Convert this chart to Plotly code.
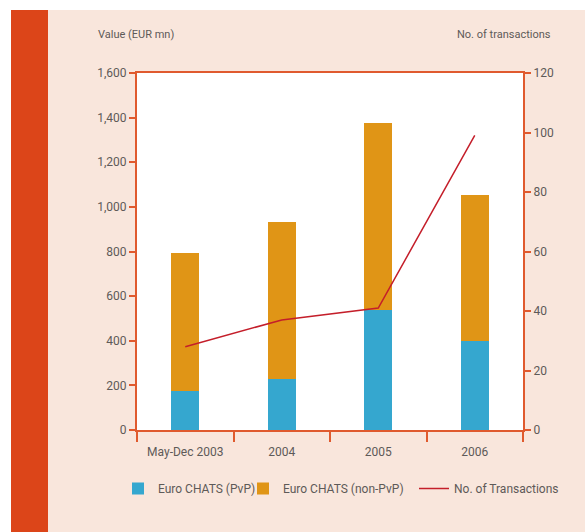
import plotly.graph_objects as go

# Euro CHATS settlement values (EUR mn) and transaction counts
periods = ["May-Dec 2003", "2004", "2005", "2006"]
pvp_values = [175, 230, 540, 400]
non_pvp_values = [620, 700, 835, 655]
transactions = [28, 37, 41, 99]

left_ticks = [0, 200, 400, 600, 800, 1000, 1200, 1400, 1600]
right_ticks = [0, 20, 40, 60, 80, 100, 120]

AXIS = "#e05a2e"
TEXT = "#5e5a58"
PEACH = "#f9e6dc"
FONT = "Roboto"

# plot area in pixels
W, H = 585, 532
L, R, T, B = 137, 523, 73, 430


def px(x):
    return (x - L) / (R - L)


def py(y):
    return (B - y) / (B - T)


def legend_at(x):
    return dict(
        orientation="h", x=px(x), y=py(474), xanchor="left", yanchor="top",
        bgcolor="rgba(0,0,0,0)", font=dict(size=12, color=TEXT), itemwidth=30,
    )


fig = go.Figure()
fig.add_trace(go.Bar(
    x=periods, y=pvp_values, name="Euro CHATS (PvP)", legend="legend",
    marker=dict(color="#35a7cf", line=dict(width=0)),
))
fig.add_trace(go.Bar(
    x=periods, y=non_pvp_values, name="Euro CHATS (non-PvP)", legend="legend2",
    marker=dict(color="#e09516", line=dict(width=0)),
))
fig.add_trace(go.Scatter(
    x=periods, y=transactions, name="No. of Transactions", yaxis="y2",
    legend="legend3", mode="lines", line=dict(color="#c41e2a", width=1.5),
))

fig.update_layout(
    width=W, height=H,
    margin=dict(l=L, r=W - R, t=T, b=H - B),
    paper_bgcolor=PEACH,
    plot_bgcolor="white",
    barmode="stack",
    bargap=0.71,
    font=dict(family=FONT, size=12, color=TEXT),
    showlegend=True,
    legend=legend_at(118),
    legend2=legend_at(243),
    legend3=legend_at(414),
    xaxis=dict(
        type="category", showline=True, linecolor=AXIS, linewidth=2,
        mirror=True, ticks="outside", tickson="boundaries", ticklen=10,
        tickcolor=AXIS, tickwidth=1.5, showgrid=False, zeroline=False,
        ticklabelstandoff=10,
        tickfont=dict(size=12, color=TEXT),
    ),
    yaxis=dict(
        range=[0, 1600], tickvals=left_ticks, tickformat=",",
        showline=True, linecolor=AXIS, linewidth=2,
        ticks="outside", ticklen=6, tickcolor=AXIS, tickwidth=2,
        showgrid=False, zeroline=False, tickfont=dict(size=12, color=TEXT),
    ),
    yaxis2=dict(
        range=[0, 120], tickvals=right_ticks, overlaying="y", side="right",
        showline=True, linecolor=AXIS, linewidth=2,
        ticks="outside", ticklen=6, tickcolor=AXIS, tickwidth=2,
        showgrid=False, zeroline=False, tickfont=dict(size=12, color=TEXT),
    ),
    shapes=[
        # white frame strips at top and left edges
        dict(type="rect", xref="paper", yref="paper", x0=px(0), x1=px(W),
             y0=py(10), y1=py(0), fillcolor="white", line=dict(width=0), layer="below"),
        dict(type="rect", xref="paper", yref="paper", x0=px(0), x1=px(11),
             y0=py(H), y1=py(0), fillcolor="white", line=dict(width=0), layer="below"),
        # red side band
        dict(type="rect", xref="paper", yref="paper", x0=px(11), x1=px(48),
             y0=py(H), y1=py(10), fillcolor="#dc4519", line=dict(width=0), layer="below"),
    ],
    annotations=[
        dict(text="Value (EUR mn)", xref="paper", yref="paper", x=px(96), y=py(35),
             xanchor="left", yanchor="middle", showarrow=False,
             font=dict(size=11, color=TEXT)),
        dict(text="No. of transactions", xref="paper", yref="paper", x=px(553), y=py(35),
             xanchor="right", yanchor="middle", showarrow=False,
             font=dict(size=11, color=TEXT)),
    ],
)

fig.write_html("out.html")
